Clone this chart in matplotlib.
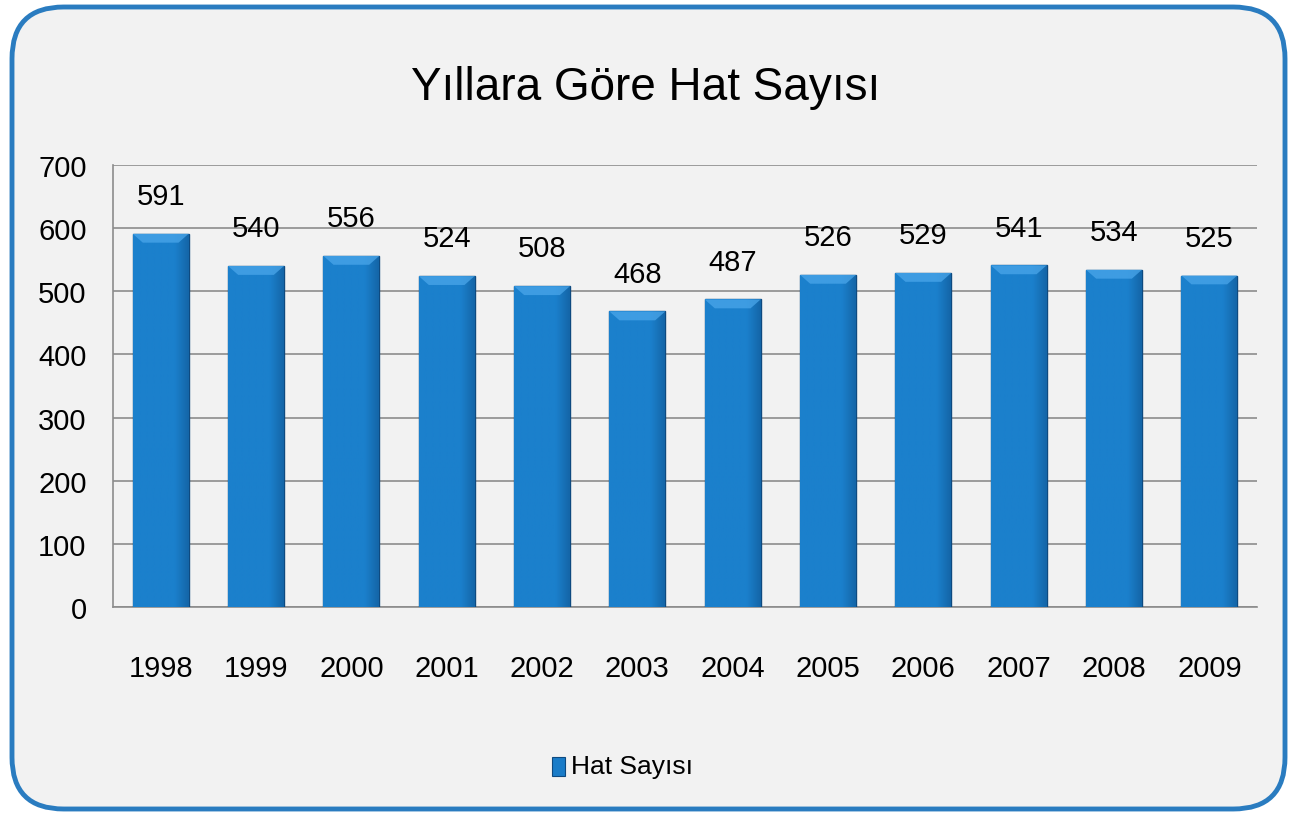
import numpy as np
import matplotlib.pyplot as plt
from matplotlib.patches import FancyBboxPatch
from matplotlib.colors import LinearSegmentedColormap
from matplotlib import font_manager

years = ['1998', '1999', '2000', '2001', '2002', '2003', '2004', '2005', '2006', '2007', '2008', '2009']
hat_sayisi = [591, 540, 556, 524, 508, 468, 487, 526, 529, 541, 534, 525]
yticks = [0, 100, 200, 300, 400, 500, 600, 700]

names = {f.name for f in font_manager.fontManager.ttflist}
fam = ['Liberation Sans Narrow', 'DejaVu Sans'] if 'Liberation Sans Narrow' in names else ['Liberation Sans', 'DejaVu Sans']
plt.rcParams['font.family'] = fam

fig = plt.figure(figsize=(12.91, 8.2), dpi=100)
fig.patch.set_facecolor('white')

# rounded chart frame, behind the axes
frame = FancyBboxPatch((12/1291, 10/820), 1273/1291, 802/820,
                       boxstyle='round,pad=0,rounding_size=0.04',
                       transform=fig.transFigure, facecolor='#f2f2f2',
                       edgecolor='#2a7cc0', linewidth=3.5, mutation_aspect=1291/820,
                       zorder=-10)
fig.patches.append(frame)

ax = fig.add_axes([113/1291, 1 - 608/820, 1144/1291, 442/820])
ax.set_facecolor('#f2f2f2')

x = np.arange(len(years))
bars = ax.bar(x, hat_sayisi, width=0.585, color='#1a7cc8', edgecolor='#0e4a80', linewidth=1.0, zorder=3)

# soft horizontal shading on each bar
grad = np.linspace(0, 1, 64)
shade = np.clip((grad - 0.75) * 4, 0, 1)
cmap = LinearSegmentedColormap.from_list('b', ['#1b80cc', '#1466a8'])
for b in bars:
    bx, by, bw, bh = b.get_x(), b.get_y(), b.get_width(), b.get_height()
    im = ax.imshow(shade[None, :], cmap=cmap, aspect='auto', extent=[bx, bx + bw, by, by + bh],
                   zorder=3.5, vmin=0, vmax=1)
    im.set_clip_path(b)
    # lighter top bevel
    ax.fill([bx, bx + bw, bx + bw * 0.82, bx + bw * 0.18], [by + bh, by + bh, by + bh - 14, by + bh - 14],
            color='#4aa6ea', alpha=0.75, zorder=4, linewidth=0)

for xi, v in zip(x, hat_sayisi):
    ax.text(xi, v + 60, str(v), ha='center', va='center', fontsize=21, color='black')

ax.set_xlim(-0.5, len(years) - 0.5)
ax.set_ylim(0, 700)
ax.set_yticks(yticks)
ax.set_xticks(x)
ax.set_xticklabels(years, fontsize=21)
ax.tick_params(axis='y', labelsize=21, length=0, pad=19)
ax.tick_params(axis='x', length=0, pad=34)
ax.grid(axis='y', color='#8c8c8c', linewidth=1.2, zorder=0)
ax.set_axisbelow(True)
for s in ['top', 'right']:
    ax.spines[s].set_visible(False)
ax.spines['left'].set_color('#8c8c8c')
ax.spines['bottom'].set_color('#8c8c8c')
ax.spines['left'].set_linewidth(1.2)
ax.spines['bottom'].set_linewidth(1.2)

fig.text(0.5, 1 - 88/820, 'Yıllara Göre Hat Sayısı', ha='center', va='center', fontsize=33)

# legend
fig.patches.append(plt.Rectangle((552/1291, 1 - 777/820), 13/1291, 19/820, transform=fig.transFigure,
                                 facecolor='#1a7cc8', edgecolor='#0e4a80', linewidth=0.8))
fig.text(571/1291, 1 - 767/820, 'Hat Sayısı', ha='left', va='center', fontsize=19)

fig.savefig('out.png', dpi=100, facecolor=fig.get_facecolor())
